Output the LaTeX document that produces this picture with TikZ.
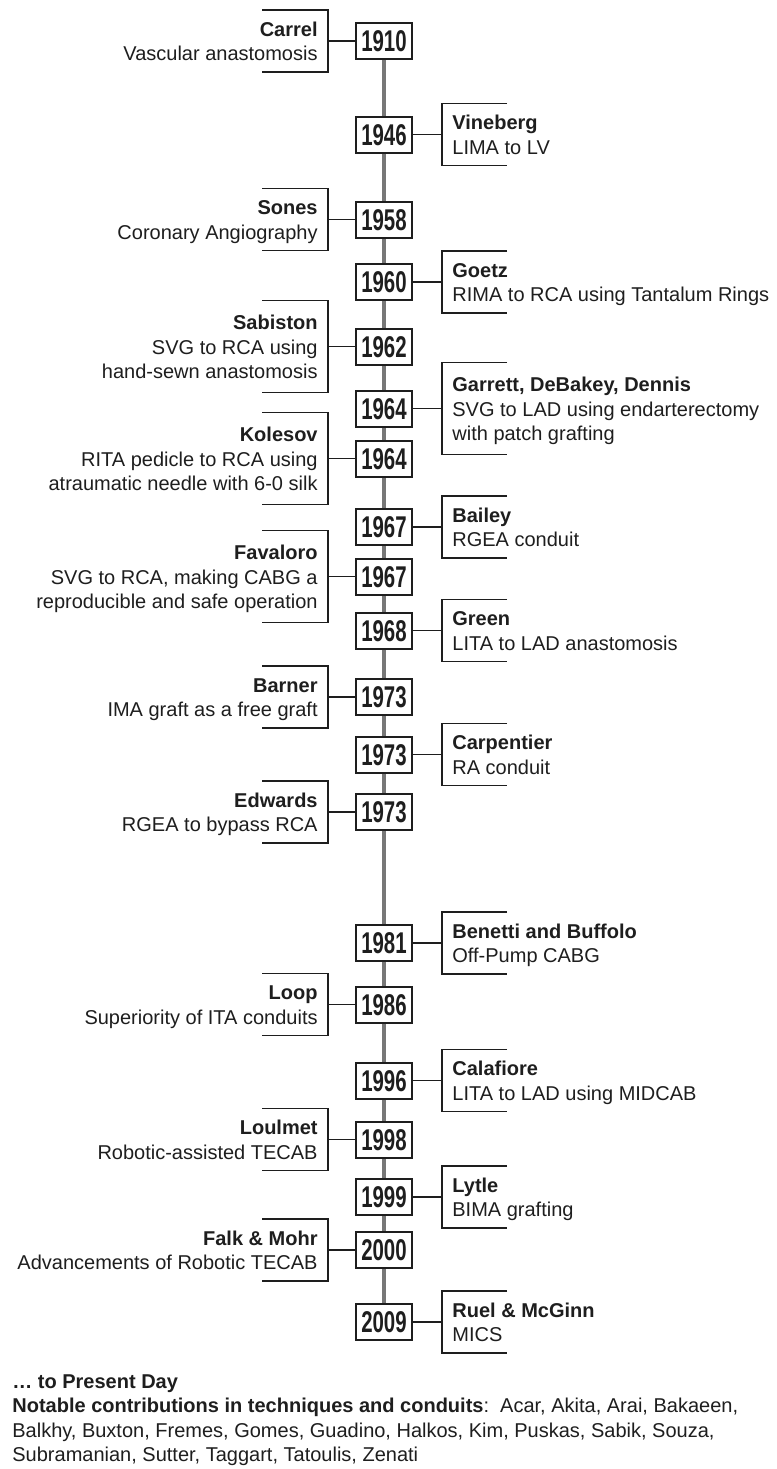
\documentclass[tikz,border=0pt]{standalone}
\usepackage{fontspec}
\setmainfont{Liberation Sans}
\usepackage{graphicx}
\usetikzlibrary{calc,backgrounds}
\definecolor{ink}{HTML}{1E1E1E}
\definecolor{spinegray}{HTML}{777777}
\newcommand{\yr}[1]{\scalebox{0.68}[1]{#1}}
% #1 id, #2 year, #3 y, #4 half bracket height, #5 text top offset, #6 text
\newcommand{\entryL}[6]{%
  \node[yearbox] (b#1) at (384,#3) {\yr{#2}};
  \coordinate (k#1) at ($(b#1.center)+(-56,0)$);
  \draw[brk] (b#1.west) -- (k#1);
  \draw[brk] ($(k#1)+(-66,-#4)$) -- ($(k#1)+(0,-#4)$) -- ($(k#1)+(0,#4)$) -- ($(k#1)+(-66,#4)$);
  \node[ltext] (t#1) at ($(b#1.center)+(-66,#5)$) {\rule{0pt}{8pt}#6};
}
\newcommand{\entryR}[6]{%
  \node[yearbox] (b#1) at (384,#3) {\yr{#2}};
  \coordinate (k#1) at ($(b#1.center)+(58,0)$);
  \draw[brk] (b#1.east) -- (k#1);
  \draw[brk] ($(k#1)+(65,-#4)$) -- ($(k#1)+(0,-#4)$) -- ($(k#1)+(0,#4)$) -- ($(k#1)+(65,#4)$);
  \node[rtext] (t#1) at ($(b#1.center)+(68,#5)$) {\rule{0pt}{8pt}#6};
}
\begin{document}
\begin{tikzpicture}[x=0.5pt,y=-0.5pt,
  yearbox/.style={draw=ink, line width=1pt, fill=white, minimum width=28pt, minimum height=18pt,
    inner sep=0pt, text height=10.75pt, text depth=0pt, font=\fontsize{15}{15}\selectfont\bfseries, text=ink},
  brk/.style={draw=ink, line width=0.85pt},
  spine/.style={draw=spinegray, line width=2.4pt},
  ltext/.style={anchor=north east, align=right, inner sep=0pt, font=\fontsize{10}{12.25}\selectfont, text=ink},
  rtext/.style={anchor=north west, align=left, inner sep=0pt, font=\fontsize{10}{12.25}\selectfont, text=ink},
  foot/.style={anchor=north west, align=left, inner sep=0pt, font=\fontsize{10}{12.25}\selectfont, text=ink}
]
\useasboundingbox (0,0) rectangle (777,1469);

\entryL{1}{1910}{41}{31}{-21.1}{\textbf{Carrel}\\Vascular anastomosis}
\entryR{2}{1946}{134.5}{31}{-21.1}{\textbf{Vineberg}\\LIMA to LV}
\entryL{3}{1958}{219.5}{31}{-21.1}{\textbf{Sones}\\Coronary Angiography}
\entryR{4}{1960}{282}{31}{-21.1}{\textbf{Goetz}\\RIMA to RCA using Tantalum Rings}
\entryL{5}{1962}{346.5}{46}{-33.35}{\textbf{Sabiston}\\SVG to RCA using\\hand-sewn anastomosis}
\entryR{6}{1964}{408.5}{46}{-33.35}{\textbf{Garrett, DeBakey, Dennis}\\SVG to LAD using endarterectomy\\with patch grafting}
\entryL{7}{1964}{458.5}{46}{-33.35}{\textbf{Kolesov}\\RITA pedicle to RCA using\\atraumatic needle with 6-0 silk}
\entryR{8}{1967}{527}{31}{-21.1}{\textbf{Bailey}\\RGEA conduit}
\entryL{9}{1967}{576.5}{46}{-33.35}{\textbf{Favaloro}\\SVG to RCA, making CABG a\\reproducible and safe operation}
\entryR{10}{1968}{630.5}{31}{-21.1}{\textbf{Green}\\LITA to LAD anastomosis}
\entryL{11}{1973}{697}{31}{-21.1}{\textbf{Barner}\\IMA graft as a free graft}
\entryR{12}{1973}{754.5}{31}{-21.1}{\textbf{Carpentier}\\RA conduit}
\entryL{13}{1973}{812}{31}{-21.1}{\textbf{Edwards}\\RGEA to bypass RCA}
\entryR{14}{1981}{943}{31}{-21.1}{\textbf{Benetti and Buffolo}\\Off-Pump CABG}
\entryL{15}{1986}{1004.5}{31}{-21.1}{\textbf{Loop}\\Superiority of ITA conduits}
\entryR{16}{1996}{1080.5}{31}{-21.1}{\textbf{Calafiore}\\LITA to LAD using MIDCAB}
\entryL{17}{1998}{1139.5}{31}{-21.1}{\textbf{Loulmet}\\Robotic-assisted TECAB}
\entryR{18}{1999}{1197}{31}{-21.1}{\textbf{Lytle}\\BIMA grafting}
\entryL{19}{2000}{1250}{31}{-21.1}{\textbf{Falk \& Mohr}\\Advancements of Robotic TECAB}
\entryR{20}{2009}{1322}{31}{-21.1}{\textbf{Ruel \& McGinn}\\MICS}

\node[foot] (note) at (12,1372) {\rule{0pt}{8pt}\textbf{… to Present Day}\\
  \textbf{Notable contributions in techniques and conduits}:\ \ Acar, Akita, Arai, Bakaeen,\\
  Balkhy, Buxton, Fremes, Gomes, Guadino, Halkos, Kim, Puskas, Sabik, Souza,\\
  Subramanian, Sutter, Taggart, Tatoulis, Zenati};

\begin{scope}[on background layer]
  \fill[white] (0,0) rectangle (777,1469);
  \draw[spine] (b1.center) -- (b20.center);
\end{scope}
\end{tikzpicture}
\end{document}
